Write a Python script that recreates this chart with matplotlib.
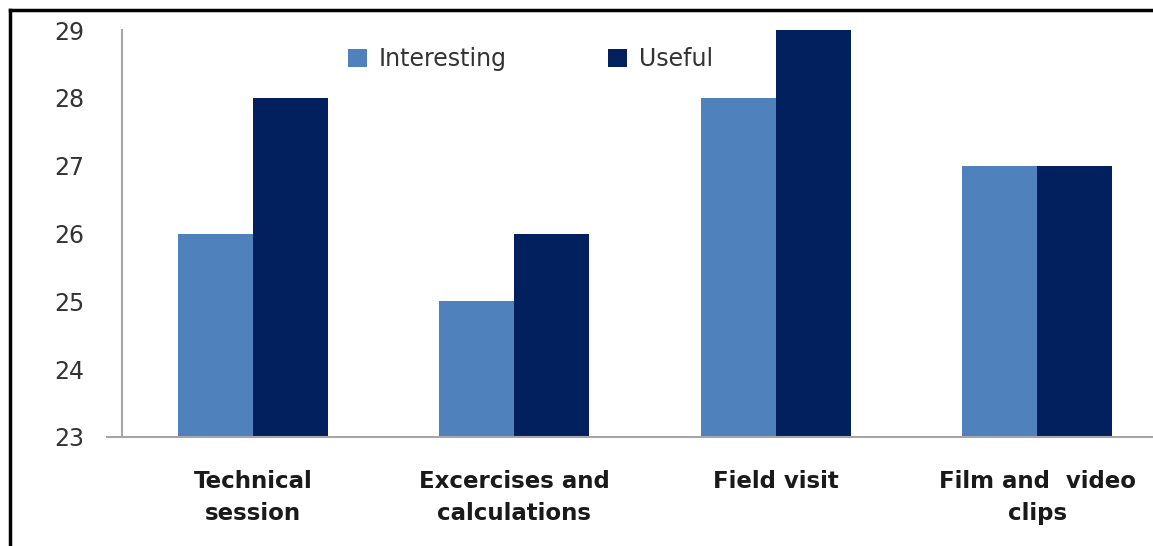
import numpy as np
import matplotlib
matplotlib.use('Agg')
import matplotlib.pyplot as plt
from matplotlib.lines import Line2D

# data
categories = ['Technical\nsession', 'Excercises and\ncalculations', 'Field visit', 'Film and  video\nclips']
interesting = [26, 25, 28, 27]
useful = [28, 26, 29, 27]
yticks = [23, 24, 25, 26, 27, 28, 29]

light = '#4F81BD'
dark = '#03205E'
grey = '#A6A6A6'

plt.rcParams['font.family'] = ['DejaVu Sans']

W, H = 1153, 546
fig = plt.figure(figsize=(W / 100, H / 100), dpi=100)
ax = fig.add_axes([122 / W, (H - 437) / H, 1046 / W, 407 / H])

x = np.arange(len(categories))
bw = 0.287
ax.bar(x - bw / 2, interesting, width=bw, color=light, label='Interesting')
ax.bar(x + bw / 2, useful, width=bw, color=dark, label='Useful')

ax.set_xlim(-0.5, 3.5)
ax.set_ylim(23, 29)
ax.set_yticks(yticks)
ax.set_xticks(x)
ax.set_xticklabels(categories, fontsize=16.5, fontweight='bold', color='#1a1a1a', linespacing=1.5)
ax.tick_params(axis='y', length=0, pad=27, labelsize=17, labelcolor='#333333')
ax.tick_params(axis='x', length=0, pad=24)

for s in ['top', 'right', 'bottom']:
    ax.spines[s].set_visible(False)
ax.spines['left'].set_color(grey)
ax.spines['left'].set_linewidth(1.5)
ax.axhline(23, xmin=-15 / 1046, xmax=1, color=grey, lw=1.5, clip_on=False, zorder=3)

ax.legend(loc='upper left', bbox_to_anchor=(205 / 1046, 1.01), ncol=2, frameon=False,
          fontsize=17, handlelength=0.8, handleheight=0.8, columnspacing=4.3,
          handletextpad=0.5, labelcolor='#333333')

# black frame on top and left edges of the picture
fig.add_artist(Line2D([10 / W, 1], [1 - 10 / H, 1 - 10 / H], color='black', lw=2.5, transform=fig.transFigure))
fig.add_artist(Line2D([10 / W, 10 / W], [0, 1 - 10 / H], color='black', lw=2.5, transform=fig.transFigure))

fig.savefig('out.png', dpi=100)
